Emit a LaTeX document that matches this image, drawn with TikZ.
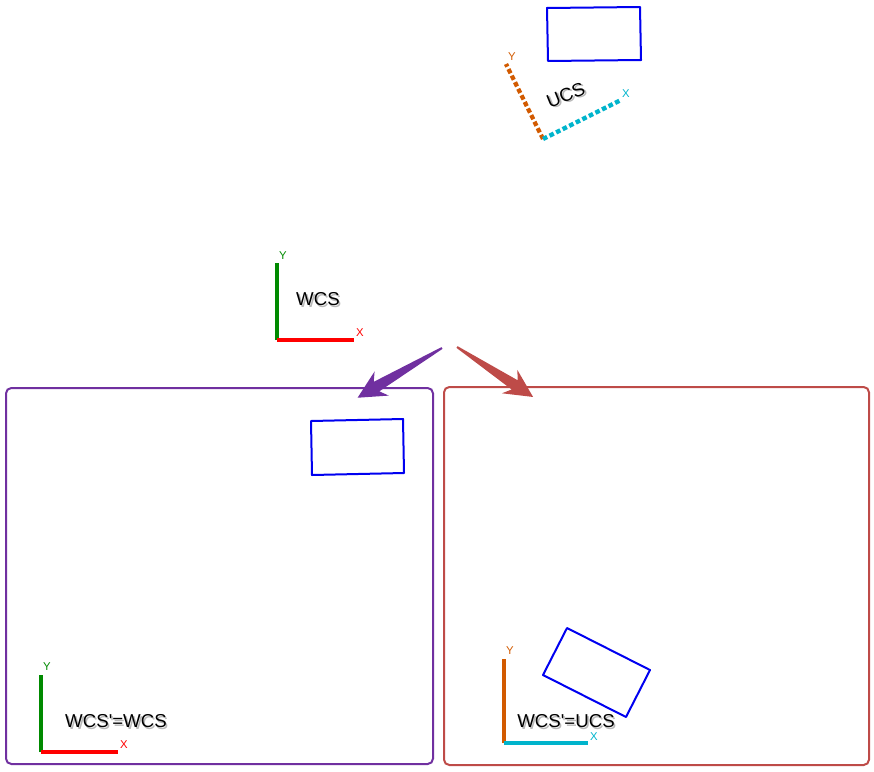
\documentclass[tikz,border=0pt]{standalone}
\usepackage{fontspec}
\setmainfont{Liberation Sans}
\definecolor{axgreen}{HTML}{008A00}
\definecolor{axred}{HTML}{FF0000}
\definecolor{axorange}{HTML}{D25A00}
\definecolor{axcyan}{HTML}{00B4CC}
\definecolor{objblue}{HTML}{0000F0}
\definecolor{leftpurple}{HTML}{7030A0}
\definecolor{rightred}{HTML}{BE4B48}
\newcommand\shtxt[1]{\rlap{\hspace{1.2pt}\raisebox{-1.2pt}{\textcolor{black!28}{#1}}}#1}
\tikzset{
  axis/.style={line width=3pt},
  ucsaxis/.style={line width=3.2pt, dash pattern=on 3.5pt off 2pt},
  axlabel/.style={font=\fontsize{8.5}{9}\selectfont, inner sep=0pt},
  cslabel/.style={font=\fontsize{14}{16}\selectfont, inner sep=1pt},
  objrect/.style={draw=objblue, line width=1.5pt, line join=round},
  panel/.style={line width=1.5pt, rounded corners=4pt}
}

\begin{document}
\begin{tikzpicture}[x=0.75pt,y=-0.75pt]
      \useasboundingbox (0,0) rectangle (874,771);
      % original scene
      \draw[objrect] (547,8) -- (640,7) -- (641,60) -- (548,61) -- cycle;
      \coordinate (ucs-o) at (543,139);
      \coordinate (ucs-x) at (621,100);
      \coordinate (ucs-y) at (506,64);
      \draw[ucsaxis, axorange] (ucs-o) -- (ucs-y);
      \draw[ucsaxis, axcyan] (ucs-o) -- (ucs-x);
      \node[axlabel, text=axorange] (ucs-ylab) at (512,57) {Y};
      \node[axlabel, text=axcyan] (ucs-xlab) at (626,94) {X};
      \node[cslabel, rotate=22] (ucs-lab) at (566,96) {\shtxt{UCS}};

      \coordinate (wcs-o) at (277,340);
      \coordinate (wcs-x) at (354,340);
      \coordinate (wcs-y) at (277,263);
      \draw[axis, axgreen] (wcs-o) -- (wcs-y);
      \draw[axis, axred] (wcs-o) -- (wcs-x);
      \node[axlabel, text=axgreen] (wcs-ylab) at (283,256) {Y};
      \node[axlabel, text=axred] (wcs-xlab) at (360,333) {X};
      \node[cslabel] (wcs-lab) at (318,300) {\shtxt{WCS}};

      % arrows
      \coordinate (arr-l) at (442,348);
      \coordinate (arr-r) at (457,347);
      \fill[leftpurple, shift={(arr-l)}, rotate=210.5]
        (0,1) -- (76,5.5) -- (70,14) -- (98,0) -- (70,-14) -- (76,-5.5) -- (0,-1) -- cycle;
      \fill[rightred, shift={(arr-r)}, rotate=-33.3]
        (0,1) -- (69,5.5) -- (63,14) -- (91,0) -- (63,-14) -- (69,-5.5) -- (0,-1) -- cycle;

      % left panel
      \draw[panel, leftpurple] (6,388) rectangle (433,764);
      \draw[objrect] (311,421) -- (403,419) -- (404,473) -- (312,475) -- cycle;
      \coordinate (l-o) at (41,752);
      \draw[axis, axgreen] (l-o) -- (41,675);
      \draw[axis, axred] (l-o) -- (118,752);
      \node[axlabel, text=axgreen] (l-ylab) at (47,667) {Y};
      \node[axlabel, text=axred] (l-xlab) at (124,745) {X};
      \node[cslabel] (l-lab) at (116,722) {\shtxt{WCS\textquotesingle=WCS}};

      % right panel
      \draw[panel, rightred] (444,387) rectangle (869,765);
      \draw[objrect] (567,628) -- (650,670) -- (626,717) -- (543,675) -- cycle;
      \coordinate (r-o) at (504,743);
      \draw[axis, axorange] (r-o) -- (504,659);
      \draw[axis, axcyan] (r-o) -- (588,743);
      \node[axlabel, text=axorange] (r-ylab) at (510,651) {Y};
      \node[axlabel, text=axcyan] (r-xlab) at (594,737) {X};
      \node[cslabel] (r-lab) at (566,722) {\shtxt{WCS\textquotesingle=UCS}};
    \end{tikzpicture}
\end{document}
